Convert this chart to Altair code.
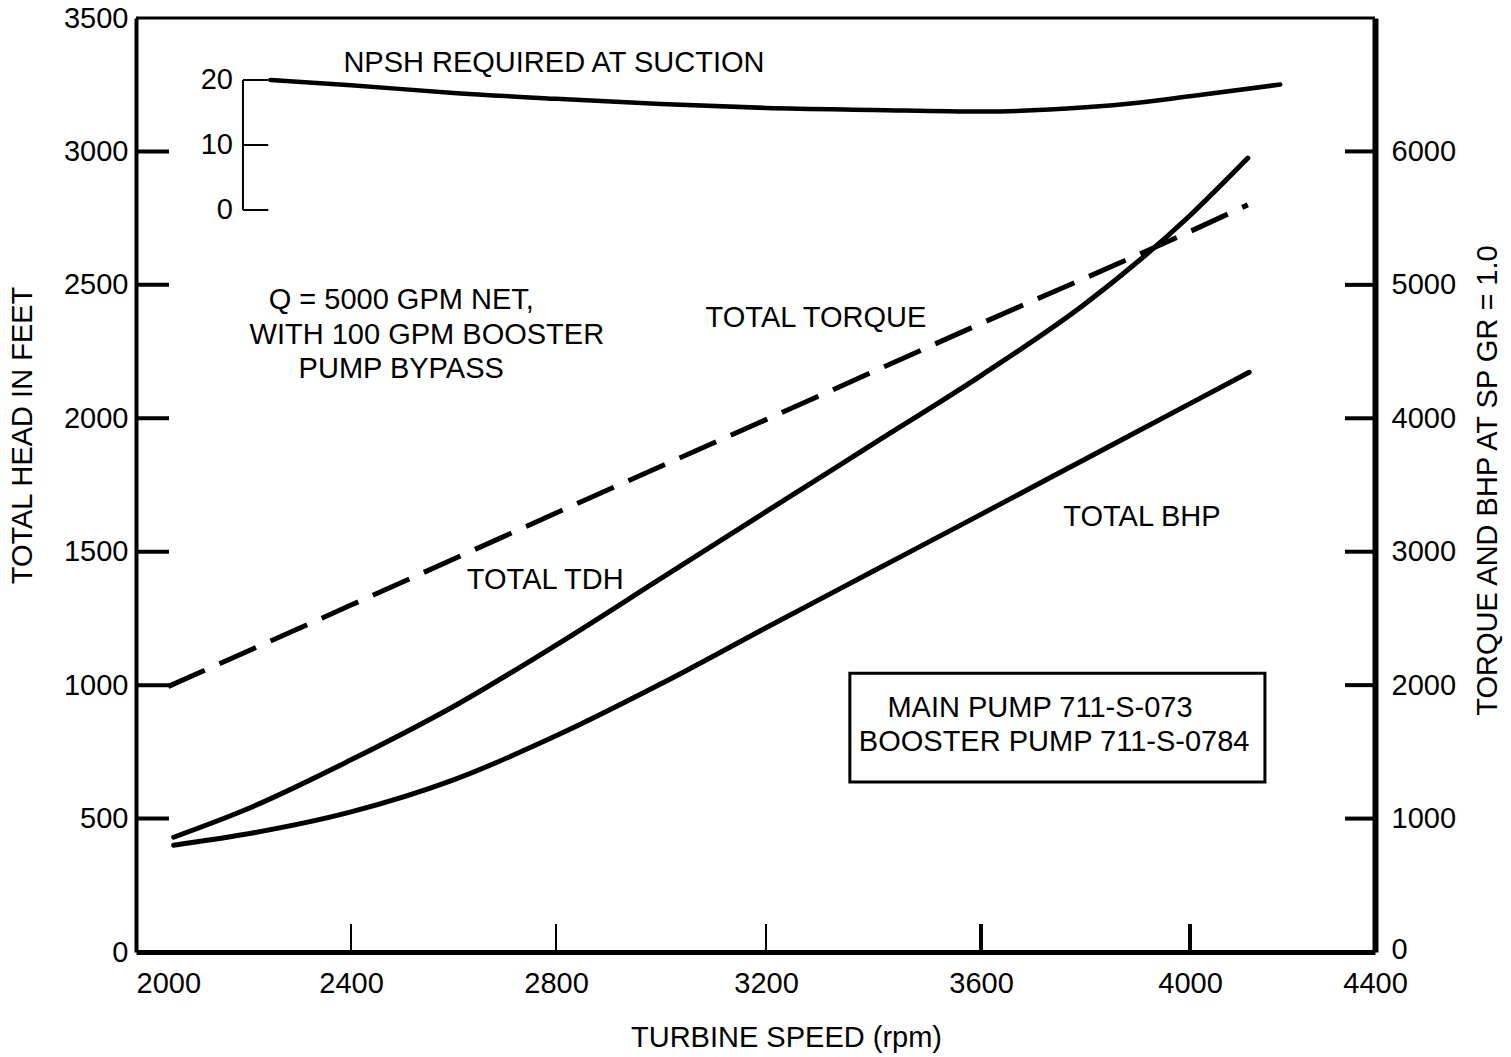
import altair as alt
import pandas as pd

# ---------------- data ----------------
rpm_ticks = [2000, 2400, 2800, 3200, 3600, 4000, 4400]
head_ticks = [0, 500, 1000, 1500, 2000, 2500, 3000, 3500]
torque_ticks = [0, 1000, 2000, 3000, 4000, 5000, 6000]
npsh_ticks = [0, 10, 20]

# TOTAL TDH (feet, left axis)
tdh_rpm = [2070, 2200, 2400, 2600, 2800, 3000, 3200, 3400, 3600, 3800, 4000, 4125]
tdh_ft = [430, 530, 720, 920, 1150, 1400, 1650, 1905, 2160, 2430, 2760, 2975]

# TOTAL BHP (right axis)
bhp_rpm = [2070, 2200, 2400, 2600, 2800, 3000, 3200, 3400, 3600, 3800, 4000, 4128]
bhp_val = [800, 880, 1050, 1290, 1620, 2010, 2430, 2855, 3280, 3695, 4110, 4345]

# TOTAL TORQUE (right axis, dashed)
torque_rpm = [2060, 2400, 2800, 3200, 3600, 4000, 4125]
torque_val = [1990, 2600, 3290, 3990, 4710, 5400, 5600]

# NPSH required at suction (inset scale 0-20)
npsh_rpm = [2250, 2400, 2600, 2800, 3000, 3200, 3400, 3600, 3800, 3900, 4000, 4195]
npsh_ft = [20.0, 19.2, 18.0, 17.1, 16.3, 15.7, 15.4, 15.15, 15.8, 16.5, 17.5, 19.3]

# annotations (text, rpm, head-feet position)
ann_text = ["NPSH REQUIRED AT SUCTION", "Q = 5000 GPM NET,", "WITH 100 GPM BOOSTER",
            "PUMP BYPASS", "TOTAL TORQUE", "TOTAL TDH", "TOTAL BHP",
            "MAIN PUMP 711-S-073", "BOOSTER PUMP 711-S-0784"]
ann_rpm = [2796, 2498, 2548, 2498, 3293, 2779, 3908, 3713, 3740]
ann_head = [3331, 2443, 2312, 2185, 2376, 1394, 1630, 914, 787]

box_rpm = [3356, 4162]
box_head = [637, 1045]

inset_rpm = [2199, 2246]

# ---------------- layout ----------------
W, H = 1239, 934
FONT = "Liberation Sans"
FS = 29

# the printed x axis is hand-spaced: follow its tick positions
x_scale = alt.Scale(domain=rpm_ticks, range=[0, 215, 420, 630, 845, 1054, 1239], nice=False, zero=False)
left_scale = alt.Scale(domain=[0, 3500], nice=False, zero=True)
right_scale = alt.Scale(domain=[0, 7000], nice=False, zero=True)
npsh_scale = alt.Scale(domain=[0, 20], range=[192, 62], nice=False, zero=True)

x_axis = alt.Axis(
    values=rpm_ticks, format="d", title="TURBINE SPEED (rpm)", orient="bottom", ticks=False, grid=False,
    domainWidth=5, domainColor="black", labelFontSize=FS, labelPadding=17, labelFlush=False,
    labelAlign={"condition": {"test": "datum.value == 2000", "value": "left"}, "value": "center"},
    titleFontSize=FS, titleX=650, titleY=85, titleBaseline="middle", titleAlign="center")


def xe(f="rpm"):
    return alt.X(f"{f}:Q", scale=x_scale, axis=x_axis)


tdh_df = pd.DataFrame({"rpm": tdh_rpm, "head": tdh_ft})
bhp_df = pd.DataFrame({"rpm": bhp_rpm, "val": bhp_val})
tq_df = pd.DataFrame({"rpm": torque_rpm, "val": torque_val})
npsh_df = pd.DataFrame({"rpm": npsh_rpm, "npsh": npsh_ft})
ann_df = pd.DataFrame({"text": ann_text, "rpm": ann_rpm, "head": ann_head})
box_df = pd.DataFrame({"r1": [box_rpm[0]], "r2": [box_rpm[1]], "h1": [box_head[0]], "h2": [box_head[1]]})

# ---- TOTAL HEAD scale marks ----
tdh = alt.Chart(tdh_df).mark_line(color="black", strokeWidth=5, interpolate="monotone", strokeCap="round").encode(
    x=xe(),
    y=alt.Y("head:Q", scale=left_scale, axis=alt.Axis(
        values=head_ticks, format="d", title="TOTAL HEAD IN FEET", orient="left", ticks=False, grid=False,
        domainWidth=4, domainColor="black", labelFontSize=FS, labelPadding=8,
        titleFontSize=FS, titleAngle=270, titleX=-114, titleY=417,
        titleBaseline="middle", titleAlign="center")),
)

left_tick_df = pd.DataFrame({"head": head_ticks[1:-1]})
left_ticks = alt.Chart(left_tick_df).mark_rule(color="black", strokeWidth=4).encode(
    y=alt.Y("head:Q", scale=left_scale, axis=None), x=alt.value(0), x2=alt.value(33))

x_tick_df = pd.DataFrame({"rpm": rpm_ticks[1:-1]})
x_ticks = alt.Chart(x_tick_df).mark_rule(color="black").encode(
    x=xe(), y=alt.value(H - 28), y2=alt.value(H),
    strokeWidth=alt.condition("datum.rpm >= 3600", alt.value(4), alt.value(2)))

top_border = alt.Chart(pd.DataFrame({"a": [0]})).mark_rule(color="black", strokeWidth=3).encode(
    x=alt.value(0), x2=alt.value(W), y=alt.value(0))

box = alt.Chart(box_df).mark_rect(fill="white", stroke="black", strokeWidth=3).encode(
    x=xe("r1"), x2="r2:Q",
    y=alt.Y("h1:Q", scale=left_scale, axis=None), y2="h2:Q")

texts = alt.Chart(ann_df).mark_text(fontSize=FS, font=FONT, color="black", align="center", baseline="middle").encode(
    x=xe(), y=alt.Y("head:Q", scale=left_scale, axis=None), text="text:N")

# ---- TORQUE / BHP scale marks ----
bhp = alt.Chart(bhp_df).mark_line(color="black", strokeWidth=5, interpolate="monotone", strokeCap="round").encode(
    x=xe(),
    y=alt.Y("val:Q", scale=right_scale, axis=alt.Axis(
        values=torque_ticks, format="d", title="TORQUE AND BHP AT SP GR = 1.0", orient="right", ticks=False,
        grid=False, domainWidth=6, domainColor="black", labelFontSize=FS, labelPadding=16,
        labelOffset={"condition": {"test": "datum.value == 0", "value": -3}, "value": 0},
        titleFontSize=FS, titleAngle=270, titleX=112, titleY=462,
        titleBaseline="middle", titleAlign="center")),
)
torque = alt.Chart(tq_df).mark_line(color="black", strokeWidth=5, interpolate="monotone",
                                    strokeDash=[40, 16], strokeCap="butt").encode(
    x=xe(), y=alt.Y("val:Q", scale=right_scale, axis=None))

right_tick_df = pd.DataFrame({"val": torque_ticks[1:]})
right_ticks = alt.Chart(right_tick_df).mark_rule(color="black", strokeWidth=4).encode(
    y=alt.Y("val:Q", scale=right_scale, axis=None), x=alt.value(W - 30), x2=alt.value(W))

# ---- NPSH inset marks ----
npsh_line = alt.Chart(npsh_df).mark_line(color="black", strokeWidth=4.5, interpolate="monotone", strokeCap="round").encode(
    x=xe(), y=alt.Y("npsh:Q", scale=npsh_scale, axis=None))

inset_axis_df = pd.DataFrame({"rpm": [inset_rpm[0]], "lo": [npsh_ticks[0]], "hi": [npsh_ticks[-1]]})
inset_axis = alt.Chart(inset_axis_df).mark_rule(color="black", strokeWidth=2).encode(
    x=xe(), y=alt.Y("lo:Q", scale=npsh_scale, axis=None), y2="hi:Q")

inset_tick_df = pd.DataFrame({"npsh": npsh_ticks, "r1": [inset_rpm[0]] * 3, "r2": [inset_rpm[1]] * 3,
                              "label": [str(v) for v in npsh_ticks]})
inset_ticks = alt.Chart(inset_tick_df).mark_rule(color="black", strokeWidth=2).encode(
    x=xe("r1"), x2="r2:Q", y=alt.Y("npsh:Q", scale=npsh_scale, axis=None))
inset_labels = alt.Chart(inset_tick_df).mark_text(fontSize=FS, font=FONT, color="black", align="right",
                                                  baseline="middle", dx=-10).encode(
    x=xe("r1"), y=alt.Y("npsh:Q", scale=npsh_scale, axis=None), text="label:N")

chart = alt.layer(
    tdh, bhp, torque, npsh_line,
    left_ticks, right_ticks, x_ticks, top_border,
    box, texts, inset_axis, inset_ticks, inset_labels,
).resolve_scale(y="independent").properties(
    width=W, height=H,
    autosize=alt.AutoSizeParams(type="none"),
    padding={"left": 136, "top": 18, "right": 136, "bottom": 105},
    background="white",
).configure_axis(
    labelFont=FONT, titleFont=FONT, labelColor="black", titleColor="black",
    titleFontWeight="normal", grid=False,
).configure_view(stroke=None)

chart.save("out.html", embed_options={"renderer": "svg", "actions": False})
